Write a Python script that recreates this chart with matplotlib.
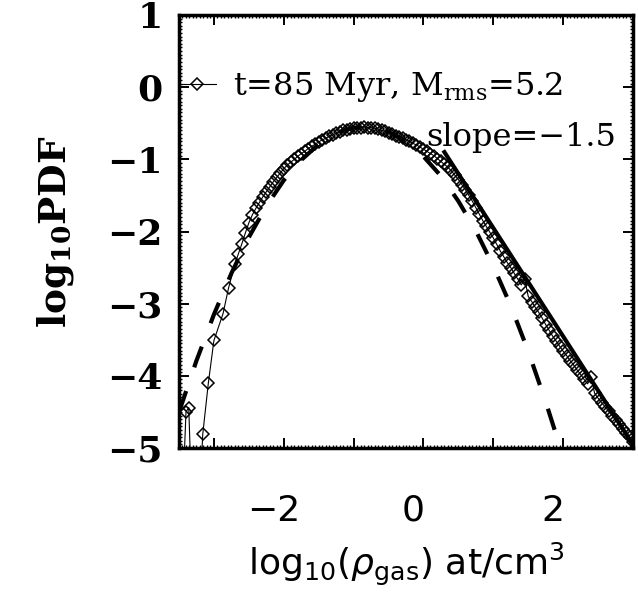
import matplotlib

matplotlib.use("Agg")
import matplotlib.pyplot as plt
from matplotlib.ticker import MultipleLocator
from matplotlib.transforms import ScaledTranslation

# ─── data ────────────────────────────────────────────────────────────────────

# simulation PDF (diamonds), log10 density vs log10 PDF
log_rho = [
    -3.46, -3.40, -3.36, -3.31, -3.22, -3.16, -3.08, -3.00, -2.87, -2.79,
    -2.70, -2.65, -2.60, -2.55, -2.50, -2.45, -2.40, -2.35, -2.30, -2.25,
    -2.20, -2.15, -2.10, -2.05, -2.00, -1.95, -1.90, -1.85, -1.80, -1.75,
    -1.70, -1.65, -1.60, -1.55, -1.50, -1.45, -1.40, -1.35, -1.30, -1.25,
    -1.20, -1.15, -1.10, -1.05, -1.00, -0.95, -0.90, -0.85, -0.80, -0.75,
    -0.70, -0.65, -0.60, -0.55, -0.50, -0.45, -0.40, -0.35, -0.30, -0.25,
    -0.20, -0.15, -0.10, -0.05, 0.00, 0.05, 0.10, 0.15, 0.20, 0.25,
    0.30, 0.35, 0.40, 0.45, 0.50, 0.55, 0.60, 0.65, 0.70, 0.75,
    0.80, 0.85, 0.90, 0.95, 1.00, 1.05, 1.10, 1.15, 1.20, 1.25,
    1.30, 1.35, 1.40, 1.45, 1.50, 1.55, 1.60, 1.65, 1.70, 1.75,
    1.80, 1.85, 1.90, 1.95, 2.00, 2.05, 2.10, 2.15, 2.20, 2.25,
    2.30, 2.35, 2.40, 2.45, 2.50, 2.55, 2.60, 2.65, 2.70, 2.75,
    2.80, 2.85, 2.90, 2.95, 3.00,
]
log_pdf = [
    -6.00, -4.50, -4.44, -6.00, -6.00, -4.81, -4.10, -3.51, -3.14, -2.78,
    -2.45, -2.31, -2.17, -2.02, -1.88, -1.77, -1.68, -1.60, -1.52, -1.45,
    -1.38, -1.31, -1.25, -1.19, -1.13, -1.08, -1.04, -1.00, -0.96, -0.92,
    -0.89, -0.85, -0.82, -0.79, -0.76, -0.73, -0.71, -0.68, -0.66, -0.64,
    -0.62, -0.60, -0.59, -0.58, -0.57, -0.56, -0.56, -0.55, -0.56, -0.56,
    -0.57, -0.58, -0.60, -0.61, -0.63, -0.65, -0.67, -0.69, -0.71, -0.73,
    -0.75, -0.78, -0.80, -0.83, -0.86, -0.89, -0.92, -0.95, -0.99, -1.03,
    -1.07, -1.11, -1.16, -1.22, -1.28, -1.35, -1.42, -1.50, -1.58, -1.67,
    -1.76, -1.85, -1.93, -2.01, -2.09, -2.18, -2.27, -2.35, -2.43, -2.50,
    -2.58, -2.66, -2.74, -2.66, -2.90, -2.97, -3.05, -3.12, -3.20, -3.29,
    -3.37, -3.45, -3.52, -3.59, -3.66, -3.72, -3.79, -3.85, -3.92, -3.98,
    -4.05, -4.11, -4.02, -4.24, -4.31, -4.37, -4.43, -4.49, -4.55, -4.61,
    -4.67, -4.73, -4.79, -4.85, -4.92,
]

# lognormal fit (dashed)
fit_x = [-3.50, -3.45, -3.25, -3.00, -2.75, -2.50, -2.25, -2.00, -1.75, -1.50,
         -1.25, -1.00, -0.75, -0.50, -0.25, 0.00, 0.25, 0.50, 0.75, 1.00,
         1.25, 1.50, 1.75, 2.00]
fit_y = [-4.50, -4.36, -3.79, -3.15, -2.58, -2.08, -1.65, -1.29, -1.01, -0.79,
         -0.64, -0.56, -0.56, -0.62, -0.75, -0.96, -1.23, -1.58, -1.99, -2.48,
         -3.03, -3.66, -4.36, -5.12]

# power-law tail, slope -1.5
slope_x = [0.30, 3.05]
slope_y = [-0.90, -5.03]

legend_label = r"t=85 Myr, M$_{\rm rms}$=5.2"
slope_label = "slope=\u22121.5"
x_ticks = [-3, -2, -1, 0, 1, 2, 3]
x_tick_labels = ["", "\u22122", "", "0", "", "2", ""]
y_ticks = [-5, -4, -3, -2, -1, 0, 1]
y_tick_labels = ["\u22125", "\u22124", "\u22123", "\u22122", "\u22121", "0", "1"]

# ─── figure ──────────────────────────────────────────────────────────────────

plt.rcParams["mathtext.fontset"] = "custom"
plt.rcParams["mathtext.rm"] = "DejaVu Serif"
plt.rcParams["mathtext.it"] = "DejaVu Serif:italic"
plt.rcParams["mathtext.bf"] = "DejaVu Serif:bold"

W, H = 638, 599
fig = plt.figure(figsize=(W / 100, H / 100), dpi=100)
ax = fig.add_axes([179 / W, 1 - 448 / H, (633 - 179) / W, (448 - 15) / H])

ax.plot(log_rho, log_pdf, color="black", lw=0.8, marker="D", ms=6.5,
        mfc="none", mec="black", mew=1.1, label=legend_label)
ax.plot(fit_x, fit_y, color="black", lw=3, linestyle=(0, (5.3, 6.0)))
ax.plot(slope_x, slope_y, color="black", lw=3)

ax.set_xlim(-3.5, 3.0)
ax.set_ylim(-5, 1)

ax.text(0.04, -0.70, slope_label, fontsize=23, family="DejaVu Serif",
        va="center", ha="left")

leg = ax.legend(loc="center left", bbox_to_anchor=(0.0, 0.834), frameon=False,
                borderaxespad=0, borderpad=0, handlelength=1.15,
                handletextpad=0.55, numpoints=1,
                prop={"family": "DejaVu Serif", "size": 23})

ax.set_xticks(x_ticks)
ax.set_xticklabels(x_tick_labels, fontsize=26, family="DejaVu Sans")
ax.set_yticks(y_ticks)
ax.set_yticklabels(y_tick_labels, fontsize=26, family="DejaVu Serif",
                   fontweight="bold")
ax.xaxis.set_minor_locator(MultipleLocator(0.05))
ax.yaxis.set_minor_locator(MultipleLocator(0.05))
ax.tick_params(which="both", direction="in", top=True, right=True, width=1.4)
ax.tick_params(which="major", length=7)
ax.tick_params(which="minor", length=2.5, width=1.0)
ax.tick_params(axis="x", pad=33)
ax.tick_params(axis="y", pad=12)

# x tick labels sit slightly left of their ticks in the original
shift = ScaledTranslation(-10 / 100, 0, fig.dpi_scale_trans)
for lab in ax.get_xticklabels():
    lab.set_transform(lab.get_transform() + shift)

for s in ax.spines.values():
    s.set_linewidth(2.5)

ax.set_xlabel(r"log$_{10}$($\rho_{\rm gas}$) at/cm$^3$", fontsize=26,
              family="DejaVu Sans", math_fontfamily="dejavusans", labelpad=9)
ax.set_ylabel(r"log$_{\mathbf{10}}$PDF", fontsize=27, family="DejaVu Serif",
              fontweight="bold", labelpad=22)

fig.savefig("out.png", dpi=100)
